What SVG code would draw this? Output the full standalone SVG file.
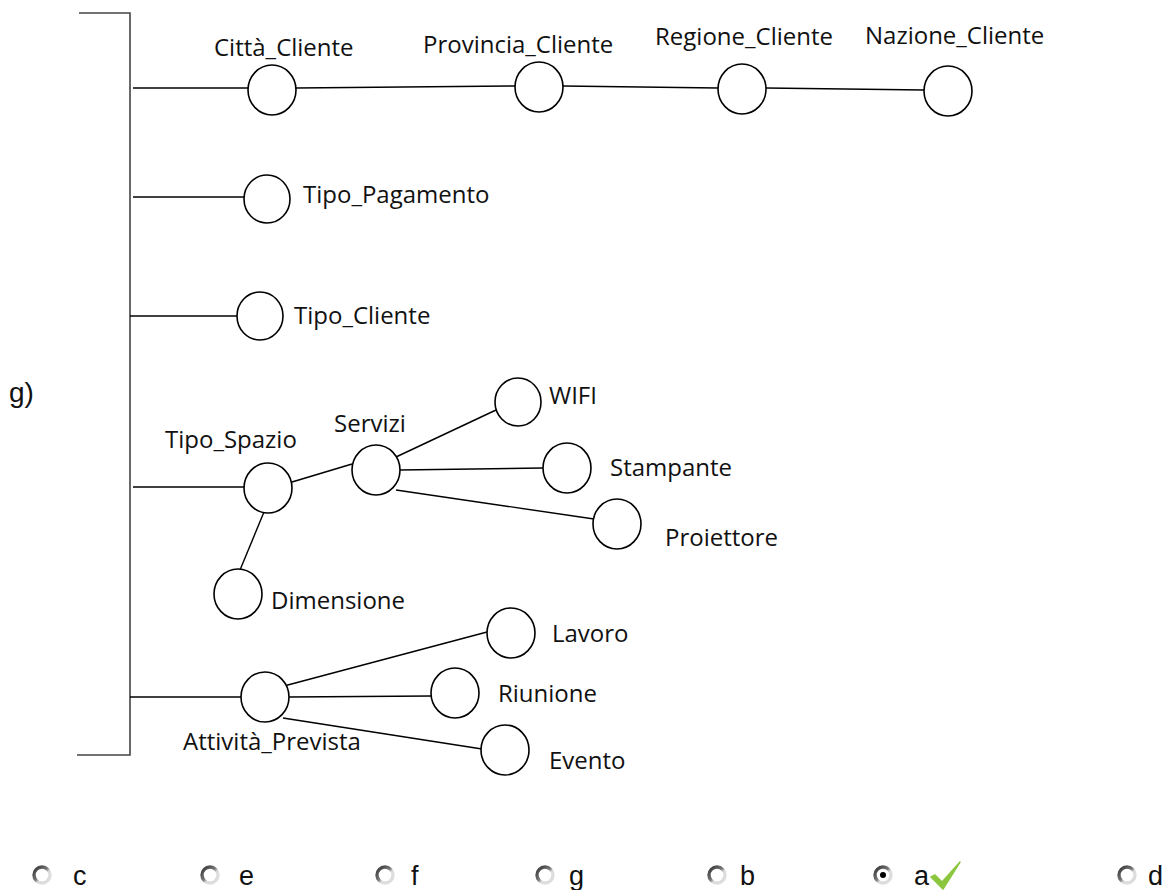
<svg xmlns="http://www.w3.org/2000/svg" width="1162" height="890" viewBox="0 0 1162 890">
<defs>
<style>
.n{fill:#fff;stroke:#000;stroke-width:1.6}
.l{stroke:#000;stroke-width:1.4;fill:none}
.b{stroke:#444;stroke-width:1.6;fill:none}
.t{font-family:"Open Sans","Liberation Sans",sans-serif;font-size:24px;fill:#111}
.o{font-family:"Liberation Sans",Arial,sans-serif;font-size:27px;fill:#111}
</style>
<linearGradient id="rg" x1="0" y1="0" x2="1" y2="1">
<stop offset="0" stop-color="#333"/>
<stop offset="0.45" stop-color="#777"/>
<stop offset="0.6" stop-color="#ddd"/>
<stop offset="1" stop-color="#ddd"/>
</linearGradient>
<g id="radio">
<circle r="8" fill="#fff" stroke="url(#rg)" stroke-width="3.4"/>
</g>
</defs>
<rect width="1162" height="890" fill="#fff"/>
<g id="bracket">
<path class="b" d="M79 13 H130 V755 H77"/>
</g>
<text class="o" x="9" y="402" style="font-size:28px">g)</text>
<g id="connectors">
<line class="l" x1="133" y1="88" x2="248" y2="88"/>
<line class="l" x1="296" y1="88" x2="515" y2="86"/>
<line class="l" x1="563" y1="86" x2="718" y2="88"/>
<line class="l" x1="766" y1="88" x2="924" y2="90"/>
<line class="l" x1="133" y1="197" x2="244" y2="197"/>
<line class="l" x1="130" y1="316" x2="237" y2="316"/>
<line class="l" x1="133" y1="487" x2="245" y2="487"/>
<line class="l" x1="292" y1="482" x2="352" y2="464"/>
<line class="l" x1="396" y1="457" x2="496" y2="410"/>
<line class="l" x1="400" y1="470" x2="543" y2="468"/>
<line class="l" x1="396" y1="490" x2="594" y2="519"/>
<line class="l" x1="264" y1="512" x2="240" y2="570"/>
<line class="l" x1="130" y1="697" x2="245" y2="697"/>
<line class="l" x1="284" y1="686" x2="487" y2="632"/>
<line class="l" x1="289" y1="697" x2="431" y2="696"/>
<line class="l" x1="283" y1="718" x2="482" y2="749"/>
</g>
<g id="citta"><ellipse class="n" cx="272" cy="90" rx="24" ry="25"/><text class="t" x="214" y="56">Città_Cliente</text></g>
<g id="provincia"><ellipse class="n" cx="539" cy="87" rx="24" ry="25"/><text class="t" x="423" y="53">Provincia_Cliente</text></g>
<g id="regione"><ellipse class="n" cx="742" cy="89" rx="24" ry="25"/><text class="t" x="655" y="45">Regione_Cliente</text></g>
<g id="nazione"><ellipse class="n" cx="948" cy="91" rx="24" ry="25"/><text class="t" x="865" y="44">Nazione_Cliente</text></g>
<g id="tipo_pagamento"><ellipse class="n" cx="267" cy="199" rx="23" ry="24"/><text class="t" x="303" y="203">Tipo_Pagamento</text></g>
<g id="tipo_cliente"><ellipse class="n" cx="260" cy="316" rx="23" ry="24"/><text class="t" x="294" y="324">Tipo_Cliente</text></g>
<g id="tipo_spazio"><ellipse class="n" cx="268" cy="488" rx="24" ry="25"/><text class="t" x="165" y="448">Tipo_Spazio</text></g>
<g id="servizi"><ellipse class="n" cx="376" cy="470" rx="24" ry="25"/><text class="t" x="334" y="432">Servizi</text></g>
<g id="wifi"><ellipse class="n" cx="518" cy="402" rx="23" ry="24"/><text class="t" x="549" y="404">WIFI</text></g>
<g id="stampante"><ellipse class="n" cx="567" cy="468" rx="24" ry="25"/><text class="t" x="610" y="476">Stampante</text></g>
<g id="proiettore"><ellipse class="n" cx="617" cy="524" rx="24" ry="25"/><text class="t" x="665" y="546">Proiettore</text></g>
<g id="dimensione"><ellipse class="n" cx="238" cy="594" rx="24" ry="25"/><text class="t" x="271" y="609">Dimensione</text></g>
<g id="attivita"><ellipse class="n" cx="265" cy="697" rx="24" ry="25"/><text class="t" x="183" y="750">Attività_Prevista</text></g>
<g id="lavoro"><ellipse class="n" cx="511" cy="633" rx="24" ry="25"/><text class="t" x="552" y="642">Lavoro</text></g>
<g id="riunione"><ellipse class="n" cx="455" cy="693" rx="24" ry="25"/><text class="t" x="498" y="702">Riunione</text></g>
<g id="evento"><ellipse class="n" cx="505" cy="750" rx="24" ry="25"/><text class="t" x="549" y="769">Evento</text></g>
<g id="options">
<use href="#radio" x="42" y="875"/><text class="o" x="73" y="885">c</text>
<use href="#radio" x="210" y="875"/><text class="o" x="239" y="885">e</text>
<use href="#radio" x="385" y="875"/><text class="o" x="411" y="885">f</text>
<use href="#radio" x="545" y="875"/><text class="o" x="569" y="885">g</text>
<use href="#radio" x="717" y="875"/><text class="o" x="740" y="885">b</text>
<use href="#radio" x="883" y="875"/><circle cx="883" cy="875" r="3" fill="#000"/><text class="o" x="914" y="885">a</text>
<path d="M931 877 L935 875 L942 882 L960 862 L943 889 Z" fill="#8cc63f" stroke="#8cc63f" stroke-width="1.5" stroke-linejoin="round"/>
<use href="#radio" x="1127" y="875"/><text class="o" x="1148" y="885">d</text>
</g>
</svg>
